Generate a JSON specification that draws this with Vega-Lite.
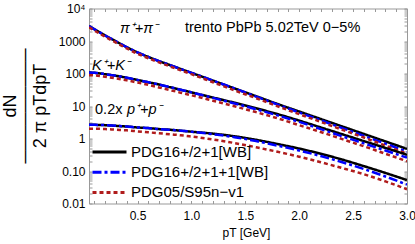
{
  "$schema": "https://vega.github.io/schema/vega-lite/v6.json",
  "width": 318,
  "height": 195,
  "autosize": {"type": "none"},
  "padding": {"left": 89, "top": 8.5, "right": 8, "bottom": 40.5},
  "background": "white",
  "config": {
    "font": "Liberation Sans",
    "view": {"stroke": null},
    "axis": {
      "domainColor": "#999999",
      "tickColor": "#999999",
      "labelColor": "#000000",
      "labelFont": "Liberation Sans",
      "labelFontSize": 12,
      "grid": false,
      "tickSize": -3,
      "labelOverlap": false,
      "labelFlush": false,
      "labelBound": false
    },
    "legend": {
      "labelFont": "Liberation Sans",
      "labelFontSize": 15,
      "labelColor": "#000000",
      "symbolStrokeWidth": 3
    }
  },
  "datasets": {
    "curves": [
      {"s": "pi", "pt": 0.05, "a": 2884, "b": 2884, "c": 2630},
      {"s": "pi", "pt": 0.1, "a": 2291, "b": 2291, "c": 2089},
      {"s": "pi", "pt": 0.2, "a": 1479, "b": 1479, "c": 1349},
      {"s": "pi", "pt": 0.3, "a": 977, "b": 977, "c": 891},
      {"s": "pi", "pt": 0.4, "a": 646, "b": 646, "c": 589},
      {"s": "pi", "pt": 0.5, "a": 447, "b": 447, "c": 407},
      {"s": "pi", "pt": 0.6, "a": 324, "b": 324, "c": 295},
      {"s": "pi", "pt": 0.7, "a": 240, "b": 240, "c": 219},
      {"s": "pi", "pt": 0.8, "a": 182, "b": 182, "c": 166},
      {"s": "pi", "pt": 0.9, "a": 138, "b": 138, "c": 126},
      {"s": "pi", "pt": 1.0, "a": 105, "b": 105, "c": 95.5},
      {"s": "pi", "pt": 1.2, "a": 60.3, "b": 60.3, "c": 53.7},
      {"s": "pi", "pt": 1.4, "a": 34.7, "b": 34.7, "c": 30.2},
      {"s": "pi", "pt": 1.6, "a": 20.0, "b": 19.5, "c": 17.4},
      {"s": "pi", "pt": 1.8, "a": 11.5, "b": 11.0, "c": 9.77},
      {"s": "pi", "pt": 2.0, "a": 6.76, "b": 6.31, "c": 5.62},
      {"s": "pi", "pt": 2.2, "a": 3.98, "b": 3.63, "c": 3.24},
      {"s": "pi", "pt": 2.4, "a": 2.34, "b": 2.09, "c": 1.86},
      {"s": "pi", "pt": 2.6, "a": 1.38, "b": 1.20, "c": 1.07},
      {"s": "pi", "pt": 2.8, "a": 0.813, "b": 0.692, "c": 0.603},
      {"s": "pi", "pt": 3.0, "a": 0.479, "b": 0.398, "c": 0.339},
      {"s": "K", "pt": 0.05, "a": 107, "b": 107, "c": 89.1},
      {"s": "K", "pt": 0.1, "a": 105, "b": 105, "c": 87.1},
      {"s": "K", "pt": 0.2, "a": 95.5, "b": 95.5, "c": 79.4},
      {"s": "K", "pt": 0.3, "a": 85.1, "b": 85.1, "c": 70.8},
      {"s": "K", "pt": 0.4, "a": 74.1, "b": 74.1, "c": 61.7},
      {"s": "K", "pt": 0.5, "a": 63.1, "b": 63.1, "c": 52.5},
      {"s": "K", "pt": 0.6, "a": 53.7, "b": 53.7, "c": 44.7},
      {"s": "K", "pt": 0.7, "a": 45.7, "b": 45.7, "c": 37.2},
      {"s": "K", "pt": 0.8, "a": 38.0, "b": 38.0, "c": 30.9},
      {"s": "K", "pt": 0.9, "a": 31.6, "b": 31.6, "c": 25.7},
      {"s": "K", "pt": 1.0, "a": 26.3, "b": 26.3, "c": 21.4},
      {"s": "K", "pt": 1.2, "a": 18.2, "b": 17.8, "c": 14.5},
      {"s": "K", "pt": 1.4, "a": 12.6, "b": 12.0, "c": 9.77},
      {"s": "K", "pt": 1.6, "a": 8.51, "b": 7.94, "c": 6.46},
      {"s": "K", "pt": 1.8, "a": 5.62, "b": 5.13, "c": 4.17},
      {"s": "K", "pt": 2.0, "a": 3.55, "b": 3.24, "c": 2.57},
      {"s": "K", "pt": 2.2, "a": 2.19, "b": 1.95, "c": 1.58},
      {"s": "K", "pt": 2.4, "a": 1.35, "b": 1.17, "c": 0.955},
      {"s": "K", "pt": 2.6, "a": 0.832, "b": 0.708, "c": 0.575},
      {"s": "K", "pt": 2.8, "a": 0.513, "b": 0.427, "c": 0.339},
      {"s": "K", "pt": 3.0, "a": 0.316, "b": 0.257, "c": 0.200},
      {"s": "p", "pt": 0.05, "a": 2.63, "b": 2.63, "c": 2.00},
      {"s": "p", "pt": 0.1, "a": 2.63, "b": 2.63, "c": 2.00},
      {"s": "p", "pt": 0.2, "a": 2.57, "b": 2.57, "c": 1.95},
      {"s": "p", "pt": 0.3, "a": 2.45, "b": 2.45, "c": 1.86},
      {"s": "p", "pt": 0.4, "a": 2.34, "b": 2.34, "c": 1.78},
      {"s": "p", "pt": 0.5, "a": 2.19, "b": 2.19, "c": 1.66},
      {"s": "p", "pt": 0.6, "a": 2.09, "b": 2.09, "c": 1.55},
      {"s": "p", "pt": 0.7, "a": 1.95, "b": 1.95, "c": 1.45},
      {"s": "p", "pt": 0.8, "a": 1.86, "b": 1.86, "c": 1.35},
      {"s": "p", "pt": 0.9, "a": 1.74, "b": 1.74, "c": 1.26},
      {"s": "p", "pt": 1.0, "a": 1.62, "b": 1.62, "c": 1.15},
      {"s": "p", "pt": 1.2, "a": 1.41, "b": 1.35, "c": 0.933},
      {"s": "p", "pt": 1.4, "a": 1.17, "b": 1.10, "c": 0.724},
      {"s": "p", "pt": 1.6, "a": 0.912, "b": 0.832, "c": 0.537},
      {"s": "p", "pt": 1.8, "a": 0.676, "b": 0.603, "c": 0.389},
      {"s": "p", "pt": 2.0, "a": 0.490, "b": 0.427, "c": 0.275},
      {"s": "p", "pt": 2.2, "a": 0.339, "b": 0.288, "c": 0.186},
      {"s": "p", "pt": 2.4, "a": 0.224, "b": 0.186, "c": 0.123},
      {"s": "p", "pt": 2.6, "a": 0.141, "b": 0.115, "c": 0.0794},
      {"s": "p", "pt": 2.8, "a": 0.0871, "b": 0.0676, "c": 0.0479},
      {"s": "p", "pt": 3.0, "a": 0.0525, "b": 0.0380, "c": 0.0275}
    ],
    "italicText": [
      {"pt": 0.338, "v": 2320, "t": "π⁺+π⁻"},
      {"pt": 0.078, "v": 167, "t": "K⁺+K⁻"},
      {"pt": 0.402, "v": 7.3, "t": "p⁺+p⁻"}
    ],
    "plainText": [
      {"pt": 0.94, "v": 2500, "t": "trento PbPb 5.02TeV 0−5%"},
      {"pt": 0.106, "v": 7.3, "t": "0.2x"}
    ]
  },
  "layer": [
    {
      "data": {"name": "curves"},
      "transform": [{"fold": ["a", "b", "c"], "as": ["m", "v"]}],
      "mark": {"type": "line", "strokeWidth": 2.5, "interpolate": "monotone", "clip": true},
      "encoding": {
        "x": {
          "field": "pt", "type": "quantitative",
          "scale": {"domain": [0.05, 3.0], "nice": false, "zero": false},
          "axis": {
            "orient": "bottom",
            "values": [0.1,0.2,0.3,0.4,0.5,0.6,0.7,0.8,0.9,1.0,1.1,1.2,1.3,1.4,1.5,1.6,1.7,1.8,1.9,2.0,2.1,2.2,2.3,2.4,2.5,2.6,2.7,2.8,2.9,3.0],
            "labelExpr": "round(datum.value*10) % 5 == 0 ? format(datum.value, '.1f') : ''",
            "labelPadding": 10,
            "title": "pT [GeV]",
            "titleFont": "Liberation Sans",
            "titleFontSize": 12,
            "titleFontWeight": "normal",
            "titleX": 157,
            "titleY": 33,
            "titleBaseline": "alphabetic"
          }
        },
        "y": {
          "field": "v", "type": "quantitative",
          "scale": {"type": "log", "domain": [0.01, 10000], "nice": false},
          "axis": {
            "orient": "left",
            "values": [0.01,0.02,0.03,0.04,0.05,0.06,0.07,0.08,0.09,0.1,0.2,0.3,0.4,0.5,0.6,0.7,0.8,0.9,1,2,3,4,5,6,7,8,9,10,20,30,40,50,60,70,80,90,100,200,300,400,500,600,700,800,900,1000,2000,3000,4000,5000,6000,7000,8000,9000,10000],
            "labelExpr": "datum.value==10000?'10⁴':datum.value==1000?'1000':datum.value==100?'100':datum.value==10?'10':datum.value==1?'1':datum.value==0.1?'0.10':datum.value==0.01?'0.01':''",
            "labelPadding": 7,
            "title": ["dN", "─────────", "2 π pTdpT"],
            "titleFont": "Liberation Sans",
            "titleFontSize": 18,
            "titleFontWeight": "normal",
            "titleAngle": 270,
            "titleAlign": "center",
            "titleBaseline": "top",
            "titleLineHeight": 15,
            "titleX": -88,
            "titleY": 97
          }
        },
        "color": {
          "field": "m", "type": "nominal",
          "scale": {"domain": ["a", "b", "c"], "range": ["#000000", "#0000ff", "#b01c1c"]},
          "legend": {
            "orient": "none", "legendX": 13, "legendY": 136, "title": null,
            "symbolType": "M-3.4,0H3.4", "symbolSize": 100, "labelOffset": 14, "rowPadding": 4.2,
            "labelExpr": "datum.value=='a'?'PDG16+/2+1[WB]':datum.value=='b'?'PDG16+/2+1+1[WB]':'PDG05/S95n−v1'"
          }
        },
        "strokeDash": {
          "field": "m", "type": "nominal",
          "scale": {"domain": ["a", "b", "c"], "range": [[1, 0], [9, 3, 3, 3], [4, 3]]},
          "legend": {
            "orient": "none", "legendX": 13, "legendY": 136, "title": null,
            "symbolType": "M-3.4,0H3.4", "symbolSize": 100, "labelOffset": 14, "rowPadding": 4.2,
            "labelExpr": "datum.value=='a'?'PDG16+/2+1[WB]':datum.value=='b'?'PDG16+/2+1+1[WB]':'PDG05/S95n−v1'"
          }
        },
        "detail": {"field": "s", "type": "nominal"}
      }
    },
    {
      "data": {"name": "italicText"},
      "mark": {"type": "text", "align": "left", "baseline": "middle", "fontSize": 14.5, "fontStyle": "italic", "font": "Liberation Sans", "color": "#000000"},
      "encoding": {
        "x": {
          "field": "pt", "type": "quantitative",
          "axis": {
            "orient": "top",
            "values": [0.1,0.2,0.3,0.4,0.5,0.6,0.7,0.8,0.9,1.0,1.1,1.2,1.3,1.4,1.5,1.6,1.7,1.8,1.9,2.0,2.1,2.2,2.3,2.4,2.5,2.6,2.7,2.8,2.9,3.0],
            "labels": false, "title": null
          }
        },
        "y": {
          "field": "v", "type": "quantitative",
          "axis": {
            "orient": "right",
            "values": [0.01,0.02,0.03,0.04,0.05,0.06,0.07,0.08,0.09,0.1,0.2,0.3,0.4,0.5,0.6,0.7,0.8,0.9,1,2,3,4,5,6,7,8,9,10,20,30,40,50,60,70,80,90,100,200,300,400,500,600,700,800,900,1000,2000,3000,4000,5000,6000,7000,8000,9000,10000],
            "labels": false, "title": null
          }
        },
        "text": {"field": "t", "type": "nominal"}
      }
    },
    {
      "data": {"name": "plainText"},
      "mark": {"type": "text", "align": "left", "baseline": "middle", "fontSize": 14.5, "font": "Liberation Sans", "color": "#000000"},
      "encoding": {
        "x": {"field": "pt", "type": "quantitative", "axis": null},
        "y": {"field": "v", "type": "quantitative", "axis": null},
        "text": {"field": "t", "type": "nominal"}
      }
    }
  ],
  "resolve": {"axis": {"x": "independent", "y": "independent"}}
}
